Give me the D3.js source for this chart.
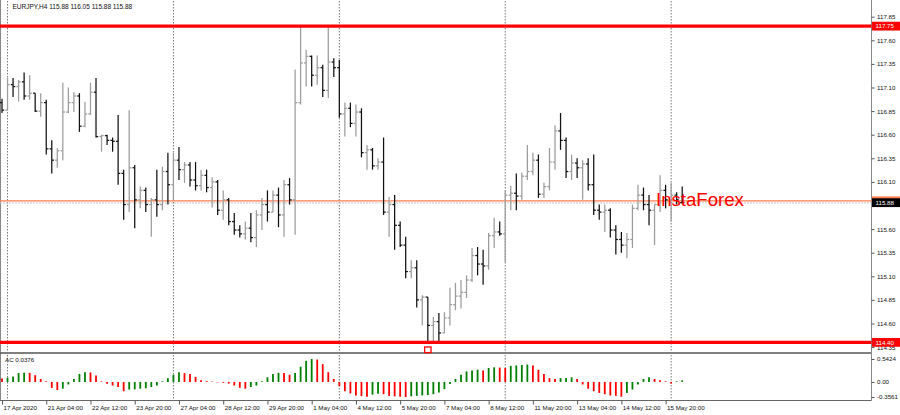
<!DOCTYPE html>
<html>
<head>
<meta charset="utf-8">
<title>EURJPY H4</title>
<style>
  body { margin: 0; padding: 0; background: #fff; }
  svg { display: block; font-family: "Liberation Sans", Arial, sans-serif; }
  .axis path.domain { display: none; }
  .axis line { stroke: #555; }
  .axis text { font-size: 6.2px; fill: #111; }
</style>
</head>
<body>
<svg id="chart" width="900" height="415"></svg>
<script src="https://d3js.org/d3.v7.min.js"></script>
<script>
// EURJPY H4, one entry per bar (17 Apr 2020 20:00 -> 18 May 2020 08:00)
var barOpen = [116.94, 116.86, 117.13, 117.11, 117.16, 117.01, 117.04, 116.85, 116.94, 116.45,
  116.33, 116.43, 116.84, 116.94, 117.01, 116.69, 116.82, 117.05, 116.58, 116.59,
  116.54, 116.53, 116.19, 115.86, 116.25, 115.91, 116.01, 115.86, 115.91, 115.86,
  116.21, 116.07, 116.33, 116.23, 116.28, 116.12, 116.06, 116.17, 116.04, 116.10,
  115.80, 115.91, 115.68, 115.59, 115.55, 115.61, 115.51, 115.75, 115.86, 115.78,
  115.96, 115.75, 116.07, 115.91, 116.94, 117.36, 117.43, 117.23, 117.31, 117.07,
  117.37, 117.31, 116.82, 116.88, 116.72, 116.84, 116.41, 116.44, 116.27, 116.31,
  115.78, 115.86, 115.64, 115.43, 115.15, 115.19, 114.85, 114.88, 114.58, 114.62,
  114.50, 114.66, 114.80, 114.89, 114.93, 115.06, 115.32, 115.23, 115.21, 115.53,
  115.57, 115.55, 115.96, 115.98, 115.95, 116.16, 116.21, 116.33, 115.97, 116.05,
  116.31, 116.64, 116.54, 116.21, 116.30, 116.25, 116.29, 116.07, 115.80, 115.78,
  115.80, 115.59, 115.49, 115.43, 115.49, 115.82, 115.96, 115.86, 115.80, 115.86,
  116.01, 115.91, 115.96, 115.88];
var barHigh = [116.98, 117.20, 117.20, 117.18, 117.26, 117.23, 117.04, 117.04, 116.97, 116.54,
  116.46, 117.15, 117.10, 117.05, 117.04, 116.95, 117.15, 117.20, 116.60, 116.60,
  116.57, 116.81, 116.23, 116.86, 116.28, 116.05, 116.04, 115.93, 116.23, 116.26,
  116.41, 116.41, 116.47, 116.31, 116.31, 116.31, 116.23, 116.23, 116.15, 116.12,
  116.01, 115.93, 115.77, 115.64, 115.68, 115.77, 115.80, 115.93, 116.01, 116.01,
  116.04, 116.12, 116.14, 117.29, 117.75, 117.50, 117.44, 117.44, 117.34, 117.75,
  117.41, 117.39, 116.94, 116.94, 116.92, 116.88, 116.49, 116.46, 116.35, 116.57,
  115.94, 115.96, 115.68, 115.52, 115.27, 115.27, 114.90, 114.88, 114.67, 114.71,
  114.72, 114.98, 115.03, 115.06, 115.11, 115.40, 115.41, 115.38, 115.56, 115.72,
  115.68, 116.01, 116.06, 116.19, 116.20, 116.49, 116.41, 116.39, 116.09, 116.46,
  116.70, 116.83, 116.57, 116.39, 116.35, 116.33, 116.35, 116.39, 115.86, 115.86,
  115.82, 115.64, 115.57, 115.56, 115.86, 116.07, 116.04, 115.96, 115.86, 116.17,
  116.07, 116.09, 115.99, 116.05];
var barLow = [116.83, 116.86, 117.00, 116.95, 116.97, 116.97, 116.84, 116.79, 116.39, 116.19,
  116.25, 116.33, 116.83, 116.84, 116.63, 116.68, 116.81, 116.57, 116.42, 116.49,
  116.42, 116.07, 115.70, 115.78, 115.61, 115.82, 115.78, 115.52, 115.73, 115.80,
  115.86, 115.91, 116.12, 116.09, 116.05, 116.01, 116.01, 115.99, 115.83, 115.75,
  115.70, 115.64, 115.54, 115.51, 115.49, 115.46, 115.41, 115.59, 115.68, 115.78,
  115.62, 115.52, 115.86, 115.54, 116.92, 117.11, 117.11, 117.13, 117.00, 116.99,
  117.21, 116.78, 116.58, 116.68, 116.58, 116.36, 116.23, 116.23, 116.23, 115.75,
  115.52, 115.38, 115.41, 115.08, 115.08, 114.77, 114.58, 114.40, 114.40, 114.40,
  114.50, 114.58, 114.74, 114.76, 114.87, 115.04, 115.11, 115.01, 115.17, 115.40,
  115.53, 115.25, 115.80, 115.80, 115.91, 116.12, 116.17, 115.93, 115.93, 116.01,
  116.23, 116.44, 116.14, 116.12, 116.14, 115.91, 116.01, 115.75, 115.70, 115.57,
  115.51, 115.33, 115.35, 115.29, 115.40, 115.80, 115.80, 115.64, 115.43, 115.78,
  115.82, 115.68, 115.86, 115.88];
var barClose = [116.86, 117.13, 117.11, 117.16, 117.01, 117.04, 116.85, 116.94, 116.45, 116.33,
  116.43, 116.84, 116.94, 117.01, 116.69, 116.82, 117.05, 116.58, 116.59, 116.54,
  116.53, 116.19, 115.86, 116.25, 115.91, 116.01, 115.86, 115.91, 115.86, 116.21,
  116.07, 116.33, 116.23, 116.28, 116.12, 116.06, 116.17, 116.04, 116.10, 115.80,
  115.91, 115.68, 115.59, 115.55, 115.61, 115.51, 115.75, 115.86, 115.78, 115.96,
  115.75, 116.07, 115.91, 116.94, 117.36, 117.43, 117.23, 117.31, 117.07, 117.37,
  117.31, 116.82, 116.88, 116.72, 116.84, 116.41, 116.44, 116.27, 116.31, 115.78,
  115.86, 115.64, 115.43, 115.15, 115.19, 114.85, 114.88, 114.58, 114.62, 114.50,
  114.66, 114.80, 114.89, 114.93, 115.06, 115.32, 115.23, 115.21, 115.53, 115.57,
  115.55, 115.96, 115.98, 115.95, 116.16, 116.21, 116.33, 115.97, 116.05, 116.31,
  116.64, 116.54, 116.21, 116.30, 116.25, 116.29, 116.07, 115.80, 115.78, 115.80,
  115.59, 115.49, 115.43, 115.49, 115.82, 115.96, 115.86, 115.80, 115.86, 116.01,
  115.91, 115.96, 115.91, 115.88];

// Accelerator Oscillator (AC)
var acValues = [0.08, 0.10, 0.13, 0.21, 0.22, 0.215, 0.16, 0.07, 0.015, -0.14,
  -0.19, -0.16, -0.06, 0.07, 0.19, 0.23, 0.225, 0.15, 0.015, -0.04,
  -0.085, -0.12, -0.22, -0.18, -0.175, -0.16, -0.15, -0.12, -0.085, 0.015,
  0.09, 0.17, 0.23, 0.21, 0.19, 0.12, 0.04, 0.02, 0.01, -0.01,
  -0.02, -0.04, -0.085, -0.14, -0.16, -0.12, -0.085, 0.015, 0.11, 0.19,
  0.215, 0.21, 0.17, 0.21, 0.36, 0.50, 0.5424, 0.53, 0.42, 0.23,
  0.07, -0.10, -0.22, -0.27, -0.32, -0.335, -0.35, -0.30, -0.28, -0.29,
  -0.33, -0.34, -0.35, -0.3561, -0.34, -0.33, -0.32, -0.31, -0.29, -0.25,
  -0.17, -0.05, 0.07, 0.17, 0.25, 0.27, 0.29, 0.27, 0.33, 0.345,
  0.34, 0.33, 0.38, 0.39, 0.40, 0.41, 0.39, 0.29, 0.19, 0.09,
  0.07, 0.09, 0.095, 0.11, 0.07, -0.06, -0.16, -0.22, -0.26, -0.29,
  -0.32, -0.33, -0.35, -0.26, -0.18, -0.06, 0.07, 0.11, 0.07, 0.04,
  0.015, -0.04, 0.015, 0.0376];

var timeLabels = ["17 Apr 2020", "21 Apr 04:00", "22 Apr 12:00", "23 Apr 20:00", "27 Apr 04:00",
  "28 Apr 12:00", "29 Apr 20:00", "1 May 04:00", "4 May 12:00", "5 May 20:00", "7 May 04:00",
  "8 May 12:00", "11 May 20:00", "13 May 04:00", "14 May 12:00", "15 May 20:00"];
var labelEvery = 8;                    // one time label every 8 bars
var weekStartBars = [1, 31, 61, 91, 121]; // Monday 00:00 bars (dotted separators)

// 115.85 sits under the bid label, so it is left out
var priceTicks = [117.85, 117.60, 117.35, 117.10, 116.85, 116.60, 116.35, 116.10,
  115.60, 115.35, 115.10, 114.85, 114.60, 114.35];
var acTicks = [0.5424, 0.00, -0.3561];
var acTickLabels = ["0.5424", "0.00", "-0.3561"];

var levels = [117.75, 114.40];   // red support / resistance
var markLevel = 115.90;          // orange line
var bid = 115.88;
var titleText = "EURJPY,H4  115.88 116.05 115.88 115.88";
var highBar = 54, lowBar = 77;   // bars marked with arrows

var bars = barOpen.map(function(o, i) {
  return {i: i, o: o, h: barHigh[i], l: barLow[i], c: barClose[i]};
});

var axisX = 871.5;
var x = d3.scaleLinear().domain([0, 123]).range([2, 682.2]);
var y = d3.scaleLinear().domain([114.35, 117.85]).range([347.1, 16.7]);
var yAc = d3.scaleLinear().domain([-0.3561, 0.5424]).range([397, 359]);

var svg = d3.select("#chart");

// frame
svg.append("rect").attr("x", 0).attr("y", 0).attr("width", 900).attr("height", 415).attr("fill", "#fff");
svg.append("line").attr("x1", 0.5).attr("x2", 0.5).attr("y1", 0).attr("y2", 401).attr("stroke", "#888");
svg.append("line").attr("x1", 0).attr("x2", axisX).attr("y1", 353).attr("y2", 353)
  .attr("stroke", "#555").attr("stroke-width", 1.6);
svg.append("line").attr("x1", 0).attr("x2", axisX).attr("y1", 400.5).attr("y2", 400.5).attr("stroke", "#666");
svg.append("line").attr("x1", axisX).attr("x2", axisX).attr("y1", 0).attr("y2", 400.5).attr("stroke", "#888");

// weekly dotted separators
svg.append("g").selectAll("line")
  .data(weekStartBars)
  .enter().append("line")
  .attr("x1", function(d) { return x(d); })
  .attr("x2", function(d) { return x(d); })
  .attr("y1", 1).attr("y2", 400)
  .attr("stroke", "#777").attr("stroke-dasharray", "1.5,1.5");

// bid line + orange line
svg.append("line").attr("x1", 0).attr("x2", axisX).attr("y1", y(bid) + 0.3).attr("y2", y(bid) + 0.3)
  .attr("stroke", "#c8c8c8").attr("stroke-dasharray", "2,1");
svg.append("line").attr("x1", 0).attr("x2", axisX).attr("y1", y(markLevel)).attr("y2", y(markLevel))
  .attr("stroke", "#ff7f50").attr("stroke-width", 1.3);

// OHLC bars
var gBars = svg.append("g").attr("stroke-width", 1.25);
var bar = gBars.selectAll("g").data(bars).enter().append("g")
  .attr("stroke", function(d) { return d.c > d.o ? "#9c9c9c" : "#111"; });
bar.append("line")
  .attr("x1", function(d) { return x(d.i); }).attr("x2", function(d) { return x(d.i); })
  .attr("y1", function(d) { return y(d.h); }).attr("y2", function(d) { return y(d.l); });
bar.append("line")
  .attr("x1", function(d) { return x(d.i) - 2.2; }).attr("x2", function(d) { return x(d.i); })
  .attr("y1", function(d) { return y(d.o); }).attr("y2", function(d) { return y(d.o); });
bar.append("line")
  .attr("x1", function(d) { return x(d.i); }).attr("x2", function(d) { return x(d.i) + 2.2; })
  .attr("y1", function(d) { return y(d.c); }).attr("y2", function(d) { return y(d.c); });

// red levels
svg.append("g").selectAll("line").data(levels).enter().append("line")
  .attr("x1", 0).attr("x2", axisX)
  .attr("y1", function(d) { return y(d); }).attr("y2", function(d) { return y(d); })
  .attr("stroke", "#ff0000").attr("stroke-width", 3.4);

// arrows
var cx = x(highBar), top = y(barHigh[highBar]) - 23;
svg.append("path")
  .attr("d", "M" + cx + "," + (top + 0.5) + " L" + (cx + 7.5) + "," + (top + 9) + " L" + (cx + 3.5) + "," + (top + 9) +
    " L" + (cx + 3.5) + "," + (top + 18) + " L" + (cx - 3.5) + "," + (top + 18) + " L" + (cx - 3.5) + "," + (top + 9) +
    " L" + (cx - 7.5) + "," + (top + 9) + " Z")
  .attr("fill", "#fff").attr("stroke", "#ff0000").attr("stroke-width", 1.4);
svg.append("rect")
  .attr("x", x(lowBar) - 3.2).attr("y", y(barLow[lowBar]) + 4.6)
  .attr("width", 6.4).attr("height", 5.6)
  .attr("fill", "#fff").attr("stroke", "#ff0000").attr("stroke-width", 1.3);

// watermark
svg.append("text").attr("x", 656).attr("y", y(markLevel) + 5.6)
  .attr("font-size", "18.6px").attr("fill", "#ff0000").text("InstaForex");

// AC histogram
svg.append("g").selectAll("line").data(acValues).enter().append("line")
  .attr("x1", function(d, i) { return x(i); }).attr("x2", function(d, i) { return x(i); })
  .attr("y1", yAc(0)).attr("y2", function(d) { return yAc(d); })
  .attr("stroke", function(d, i) { return i > 0 && d > acValues[i - 1] ? "#008000" : "#ff0000"; })
  .attr("stroke-width", 1.8);

// title texts
svg.append("text").attr("x", 12.5).attr("y", 8.8).attr("font-size", "6.5px").attr("fill", "#111").text(titleText);
svg.append("text").attr("x", 5).attr("y", 362).attr("font-size", "6.2px").attr("fill", "#111")
  .text("AC " + d3.format(".4f")(acValues[acValues.length - 1]));

// price axis
svg.append("g").attr("class", "axis").attr("transform", "translate(" + axisX + ",0)")
  .call(d3.axisRight(y).tickValues(priceTicks).tickSize(3).tickPadding(2.5).tickFormat(d3.format(".2f")));

// AC axis
svg.append("g").attr("class", "axis").attr("transform", "translate(" + axisX + ",0)")
  .call(d3.axisRight(yAc).tickValues(acTicks).tickSize(3).tickPadding(2.5)
    .tickFormat(function(d, i) { return acTickLabels[i]; }));

// time axis
var timeTicks = timeLabels.map(function(t, k) { return k * labelEvery; });
var gTime = svg.append("g").attr("class", "axis").attr("transform", "translate(0,400.5)")
  .call(d3.axisBottom(x).tickValues(timeTicks).tickSize(4).tickPadding(1.5)
    .tickFormat(function(d, k) { return timeLabels[k]; }));
gTime.selectAll("text").attr("text-anchor", "start").attr("dx", "1px");

// price labels on the axis
function axisBox(price, fill, color, withText) {
  var g = svg.append("g").attr("transform", "translate(" + (axisX + 0.5) + "," + y(price) + ")");
  g.append("rect").attr("x", 0).attr("y", -4.4).attr("width", 28).attr("height", 8.8).attr("fill", fill);
  if (withText) {
    g.append("text").attr("x", 3.5).attr("y", 0).attr("dy", "0.35em").attr("font-size", "6.2px")
      .attr("fill", color).text(d3.format(".2f")(price));
  }
}
axisBox(markLevel, "#ff7f50", "#fff", false);
axisBox(bid, "#000", "#fff", true);
levels.forEach(function(l) { axisBox(l, "#ff0000", "#fff", true); });
</script>
</body>
</html>
